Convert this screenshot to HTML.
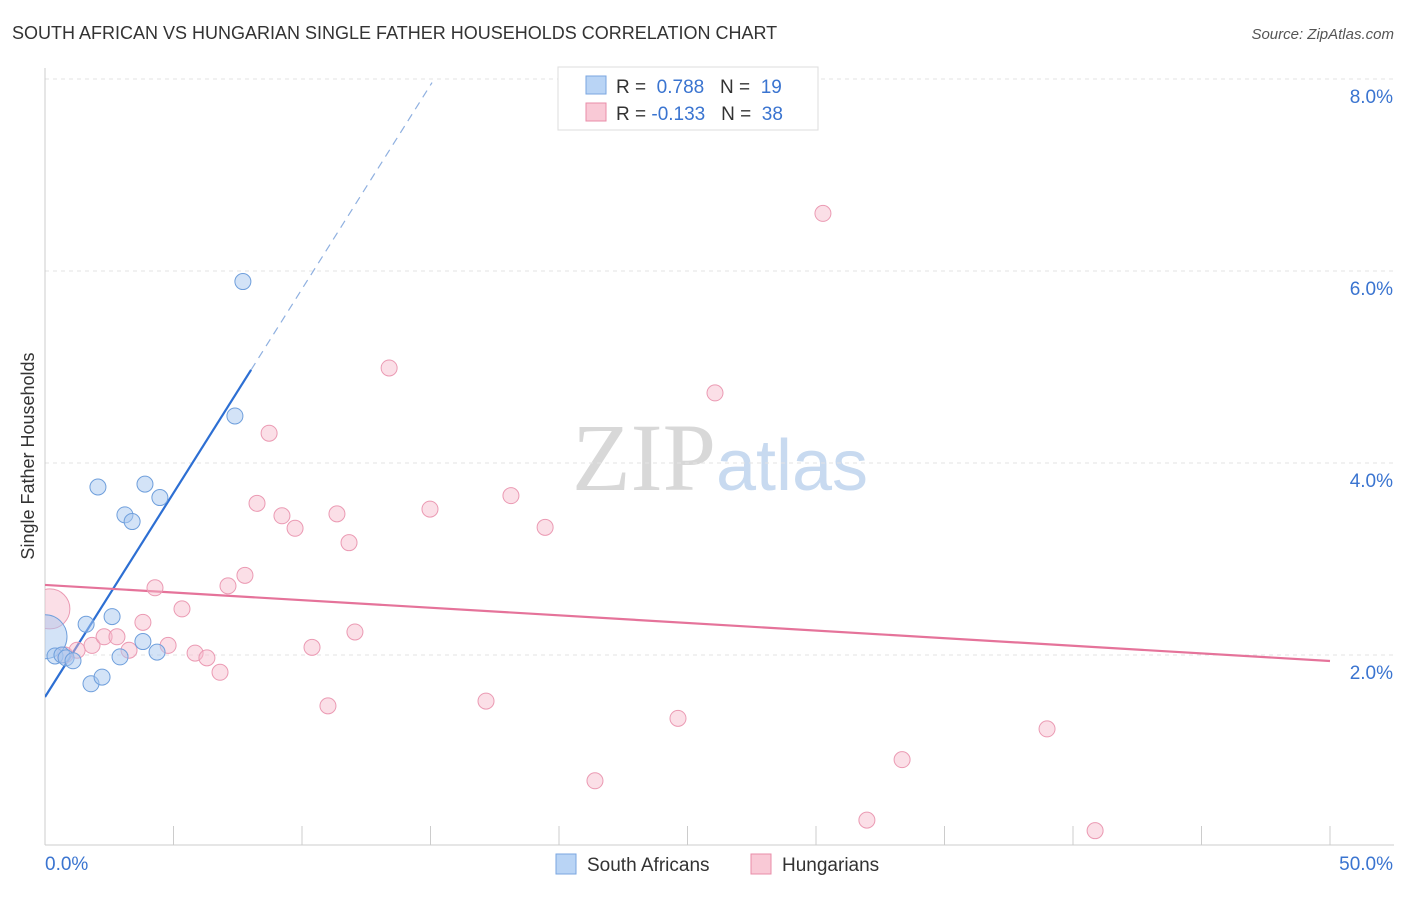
<!DOCTYPE html>
<html><head><meta charset="utf-8"><style>
body{margin:0;background:#fff;font-family:"Liberation Sans",sans-serif}
</style></head><body>
<svg width="1406" height="892" viewBox="0 0 1406 892" xmlns="http://www.w3.org/2000/svg" font-family="Liberation Sans, sans-serif">
<text x="12" y="39" font-size="18" fill="#333">SOUTH AFRICAN VS HUNGARIAN SINGLE FATHER HOUSEHOLDS CORRELATION CHART</text>
<text x="1394" y="39" font-size="15" fill="#555" text-anchor="end" font-style="italic">Source: ZipAtlas.com</text>
<text x="720" y="490" font-size="96" text-anchor="middle"><tspan fill="#d8d8d8" font-family="Liberation Serif, serif">ZIP</tspan><tspan fill="#c8daf0" font-size="72">atlas</tspan></text>
<g id="grid"></g>
<g id="axes"></g>
<text transform="translate(34,456) rotate(-90)" font-size="18" fill="#333" text-anchor="middle">Single Father Households</text>
<defs><clipPath id="pc"><rect x="45" y="60" width="1360" height="790"/></clipPath></defs>
<g id="lines" clip-path="url(#pc)"></g>
<g id="pts" clip-path="url(#pc)"></g>
<g>
<rect x="558" y="67" width="260" height="63" fill="#fff" stroke="#ddd"/>
<rect x="586" y="76" width="20" height="18" fill="#b9d4f5" stroke="#7aa6e0"/>
<text x="616" y="93" font-size="19" fill="#333">R = <tspan fill="#3a74d0">&#160;0.788</tspan>&#160;&#160;&#160;N = <tspan fill="#3a74d0">&#160;19</tspan></text>
<rect x="586" y="103" width="20" height="18" fill="#f9c9d6" stroke="#e98da8"/>
<text x="616" y="120" font-size="19" fill="#333">R = <tspan fill="#3a74d0">-0.133</tspan>&#160;&#160;&#160;N = <tspan fill="#3a74d0">&#160;38</tspan></text>
</g>
<g>
<rect x="556" y="854" width="20" height="20" fill="#b9d4f5" stroke="#7aa6e0"/>
<text x="587" y="871" font-size="19" fill="#333">South Africans</text>
<rect x="751" y="854" width="20" height="20" fill="#f9c9d6" stroke="#e98da8"/>
<text x="782" y="871" font-size="19" fill="#333">Hungarians</text>
</g>
</svg>
<script>
const yTicks=[2,4,6,8];
const yTickLabels=["2.0%","4.0%","6.0%","8.0%"];
const xTickLabels=["0.0%","50.0%"];
const blueX=[0.0,0.39,0.66,0.82,1.09,1.60,1.79,2.06,2.22,2.61,2.92,3.11,3.39,3.81,3.89,4.36,4.47,7.39,7.70];
const blueY=[2.19,1.99,2.0,1.97,1.94,2.32,1.70,3.75,1.77,2.40,1.98,3.46,3.39,2.14,3.78,2.03,3.64,4.49,5.89];
const pinkX=[0.19,0.78,1.25,1.83,2.30,2.80,3.27,3.81,4.28,4.79,5.33,5.84,6.30,6.81,7.12,7.78,8.25,8.72,9.22,9.73,10.39,11.01,11.36,11.83,12.06,13.39,14.98,17.16,18.13,19.46,21.40,24.63,26.07,30.27,31.98,33.35,38.99,40.86];
const pinkY=[2.48,2.0,2.05,2.10,2.19,2.19,2.05,2.34,2.70,2.10,2.48,2.02,1.97,1.82,2.72,2.83,3.58,4.31,3.45,3.32,2.08,1.47,3.47,3.17,2.24,4.99,3.52,1.52,3.66,3.33,0.69,1.34,4.73,6.60,0.28,0.91,1.23,0.17];
const blueLine=[1.5625,0.425];
const pinkLine=[2.73,1.9375];
const NS="http://www.w3.org/2000/svg";
const sx=v=>45+v*1285/50, sy=v=>847-v*96;
function mk(t,a,p){const e=document.createElementNS(NS,t);for(const k in a)e.setAttribute(k,a[k]);document.getElementById(p).appendChild(e);return e;}
yTicks.forEach((t,i)=>{
 const g=mk('line',{x1:45,x2:1394,y1:sy(t),y2:sy(t),stroke:'#e3e3e3','stroke-dasharray':'4,4'},'grid');
 
 
 const l=mk('text',{x:1393,y:sy(t)+24,'font-size':19,fill:'#3a74d0','text-anchor':'end'},'axes');
 l.textContent=yTickLabels[i];
 
 
});
mk('line',{x1:45,x2:1394,y1:sy(8)+0,y2:sy(8)+0,stroke:'#e3e3e3','stroke-dasharray':'4,4'},'grid');
const ax=mk('line',{x1:45,x2:1394,y1:845,y2:845,stroke:'#ccc'},'axes');


const ay=mk('line',{x1:45,x2:45,y1:68,y2:845,stroke:'#ccc'},'axes');


for(let i=0;i<=10;i++){const t=mk('line',{x1:sx(i*5),x2:sx(i*5),y1:826,y2:845,stroke:'#ccc'},'axes');
 
 }
[[0,'start',45],[50,'end',1393]].forEach((d,i)=>{const l=mk('text',{x:d[2],y:870,'font-size':19,fill:'#3a74d0','text-anchor':d[1]},'axes');l.textContent=xTickLabels[i];
 
 });
const b1=mk('line',{x1:sx(0),y1:sy(blueLine[0]),x2:sx(8.02),y2:sy(blueLine[0]+blueLine[1]*8.02),stroke:'#2d6fd3','stroke-width':2.2},'lines');


const b2=mk('line',{x1:sx(8.02),y1:sy(blueLine[0]+blueLine[1]*8.02),x2:sx(15.06),y2:sy(blueLine[0]+blueLine[1]*15.06),stroke:'#8fb0e0','stroke-width':1.2,'stroke-dasharray':'8,6'},'lines');


const p1=mk('line',{x1:sx(0),y1:sy(pinkLine[0]),x2:sx(50),y2:sy(pinkLine[1]),stroke:'#e5739a','stroke-width':2.2},'lines');


pinkX.forEach((x,i)=>{const c=mk('circle',{cx:sx(x),cy:sy(pinkY[i]),r:i==0?20:8,fill:'rgba(246,183,201,0.45)',stroke:'#eb9ab3','stroke-width':1},'pts');
 
 });
blueX.forEach((x,i)=>{const c=mk('circle',{cx:sx(x),cy:sy(blueY[i]),r:i==0?22:8,fill:'rgba(168,199,240,0.5)',stroke:'#6f9fdc','stroke-width':1},'pts');
 
 });
</script>
</body></html>
